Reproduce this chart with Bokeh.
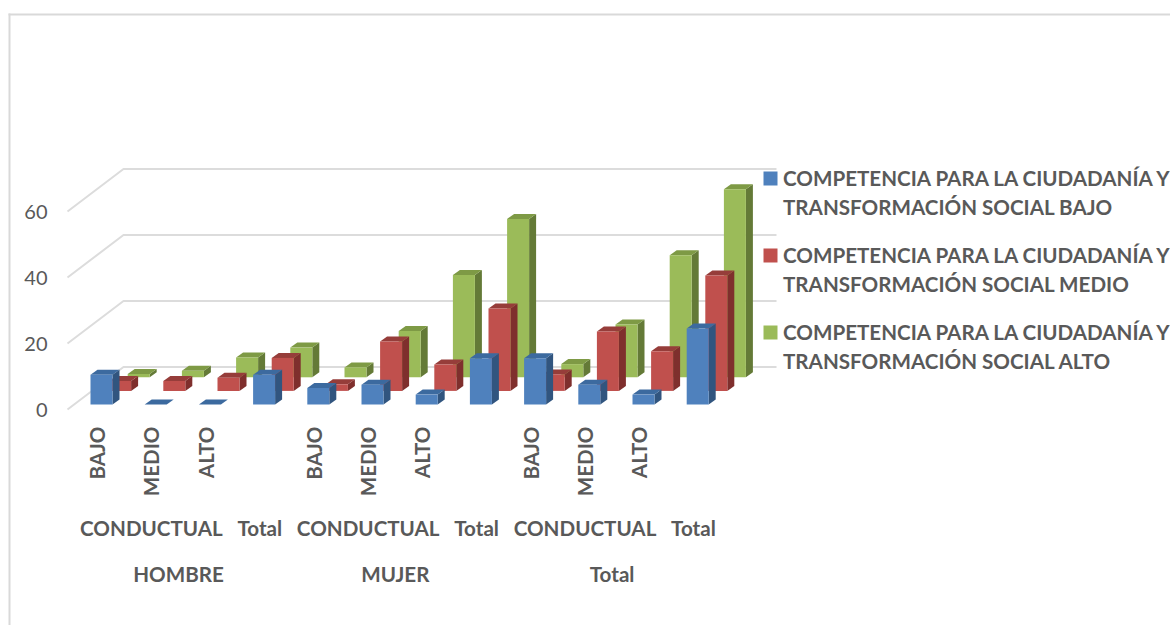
import math
from bokeh.core.properties import value
from bokeh.embed import file_html
from bokeh.resources import INLINE
from bokeh.plotting import figure
from bokeh.models import Range1d, FixedTicker, BoxAnnotation

# ---- data ----
tick_labels = {0: "BAJO", 1: "MEDIO", 2: "ALTO", 4: "BAJO", 5: "MEDIO", 6: "ALTO",
               8: "BAJO", 9: "MEDIO", 10: "ALTO"}
value_ticks = [0, 20, 40, 60]
bajo = [9, 0, 0, 9, 5, 6, 3, 14, 14, 6, 3, 23]
medio = [3, 3, 4, 10, 2, 15, 8, 25, 5, 18, 12, 35]
alto = [1, 2, 6, 9, 3, 14, 31, 48, 4, 16, 37, 57]
legend_lines = [
    ["COMPETENCIA PARA LA CIUDADANÍA Y", "TRANSFORMACIÓN SOCIAL BAJO"],
    ["COMPETENCIA PARA LA CIUDADANÍA Y", "TRANSFORMACIÓN SOCIAL MEDIO"],
    ["COMPETENCIA PARA LA CIUDADANÍA Y", "TRANSFORMACIÓN SOCIAL ALTO"],
]
mid_labels = ["CONDUCTUAL", "Total", "CONDUCTUAL", "Total", "CONDUCTUAL", "Total"]
mid_pos = [1, 3, 5, 7, 9, 11]
top_labels = ["HOMBRE", "MUJER", "Total"]
top_pos = [1.5, 5.5, 9.5]

# ---- layout (pixels of the page) ----
W, H = 1170, 625
PX_X = 54.2       # px per category
PX_Y = 3.3        # px per value unit
X0, Y0 = 96.7, 409  # page position of category 0 / value 0

def fx(page_x):
    return (page_x - X0) / PX_X

def fy(page_y):
    return (Y0 - page_y) / PX_Y

px = lambda d: d / PX_X
py = lambda d: d / PX_Y

p = figure(width=W, height=H, output_backend="svg", toolbar_location=None,
           x_range=Range1d(fx(0), fx(W)), y_range=Range1d(fy(H), fy(0)),
           min_border_left=0, min_border_right=0, min_border_top=0, min_border_bottom=0)
p.outline_line_color = None
p.grid.visible = False
p.background_fill_color = "white"
p.border_fill_color = "white"

GREY = "#595959"
FONT = "Lato"
LABEL_SIZE = "20.6px"

ax = p.yaxis[0]
ax.fixed_location = fx(67)
ax.ticker = FixedTicker(ticks=value_ticks)
ax.axis_line_color = None
ax.major_tick_line_color = None
ax.minor_tick_line_color = None
ax.major_label_standoff = 14
ax.major_label_text_font = FONT
ax.major_label_text_font_size = "20px"
ax.major_label_text_color = GREY

bx = p.xaxis[0]
bx.fixed_location = fy(420)
bx.ticker = FixedTicker(ticks=list(tick_labels))
bx.major_label_overrides = tick_labels
bx.major_label_orientation = math.pi / 2
bx.axis_line_color = None
bx.major_tick_line_color = None
bx.minor_tick_line_color = None
bx.major_label_standoff = 0
bx.major_label_text_font = FONT
bx.major_label_text_font_style = "bold"
bx.major_label_text_font_size = LABEL_SIZE
bx.major_label_text_color = GREY

# ---- frame of the chart ----
BORDER = "#d9d9d9"
p.add_layout(BoxAnnotation(left=fx(8), right=fx(10), top=fy(13), bottom=fy(H),
                           fill_color=BORDER, fill_alpha=1, line_alpha=0))
p.add_layout(BoxAnnotation(left=fx(8), right=fx(W), top=fy(13), bottom=fy(15),
                           fill_color=BORDER, fill_alpha=1, line_alpha=0))

# ---- walls: grid lines ----
DEPTH_X, DEPTH_Y = 56, 42.5
p.multi_line(
    xs=[[fx(67), fx(67 + DEPTH_X), fx(776)] for _ in value_ticks],
    ys=[[t, t + py(DEPTH_Y), t + py(DEPTH_Y)] for t in value_ticks],
    line_color="#dcdcdc", line_width=2)

# ---- bars: painted back to front ----
BAR_W = 22
SIDE_X, SIDE_Y = 7, 5
series = [
    (alto, 41.5, 32.2, "#9BBB59", "#647A37", "#7E9A45"),
    (medio, 22.9, 18.6, "#C0504D", "#7F2F2D", "#963D3A"),
    (bajo, 4.3, 5.0, "#4F81BD", "#31557F", "#3C6A9F"),
]
for vals, off_x, off_y, c_front, c_side, c_top in series:
    left = [i + px(off_x - BAR_W / 2) for i in range(len(vals))]
    right = [x + px(BAR_W) for x in left]
    base = py(off_y)
    tops = [v + base for v in vals]
    dx, dy = px(SIDE_X), py(SIDE_Y)
    p.patches(xs=[[r, r + dx, r + dx, r] for r in right],
              ys=[[base, base + dy, t + dy, t] for t in tops],
              fill_color=c_side, line_color=None)
    p.patches(xs=[[l, r, r + dx, l + dx] for l, r in zip(left, right)],
              ys=[[t, t, t + dy, t + dy] for t in tops],
              fill_color=c_top, line_color=None)
    p.quad(left=left, right=right, bottom=base, top=tops,
           fill_color=c_front, line_color=None)

# ---- group labels under the axis ----
text_style = dict(text_align="center", text_baseline="middle", text_font=value(FONT),
                  text_font_style="bold", text_font_size=value(LABEL_SIZE), text_color=GREY)
p.text(x=mid_pos, y=[fy(527)] * len(mid_pos), text=mid_labels, **text_style)
p.text(x=top_pos, y=[fy(573)] * len(top_pos), text=top_labels, **text_style)

# ---- legend ----
legend_colors = ["#4F81BD", "#C0504D", "#9BBB59"]
for k, (lines, color) in enumerate(zip(legend_lines, legend_colors)):
    y1 = 177 + 77 * k
    p.quad(left=fx(763), right=fx(777), top=fy(y1 - 6), bottom=fy(y1 + 8),
           fill_color=color, line_color=None)
    p.text(x=[fx(782.5), fx(782.5)], y=[fy(y1), fy(y1 + 29)], text=lines,
           text_align="left", text_baseline="middle", text_font=value(FONT),
           text_font_style="bold", text_font_size=value(LABEL_SIZE), text_color=GREY)

open("out.html", "w").write(file_html(p, INLINE))
